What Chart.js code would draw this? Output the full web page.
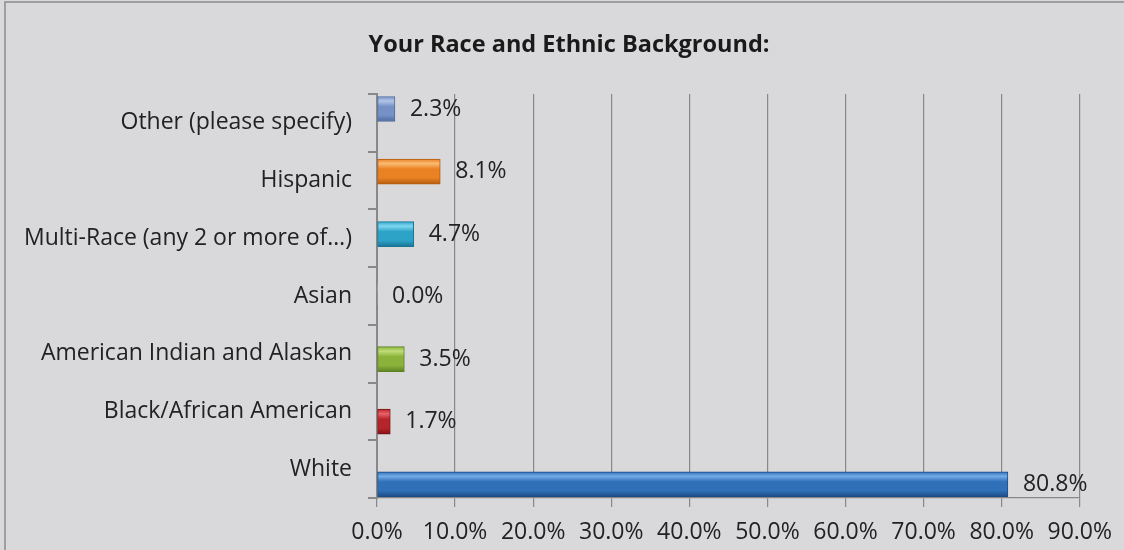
<!DOCTYPE html>
<html>
<head>
<meta charset="utf-8">
<title>Your Race and Ethnic Background</title>
<script src="https://cdn.jsdelivr.net/npm/chart.js@4.4.1/dist/chart.umd.min.js"></script>
<style>
    html, body { margin: 0; padding: 0; background: #d9d9db; }
    #wrap { width: 1124px; height: 550px; position: relative; }
</style>
</head>
<body>
<div id="wrap"><canvas id="chartRace"></canvas></div>
<script>
// dati
const chartTitle = 'Your Race and Ethnic Background:';
const categories = [
    'Other (please specify)',
    'Hispanic',
    'Multi-Race (any 2 or more of…)',
    'Asian',
    'American Indian and Alaskan',
    'Black/African American',
    'White'
];
const percentages = [2.3, 8.1, 4.7, 0.0, 3.5, 1.7, 80.8];
const xTickValues = [0, 10, 20, 30, 40, 50, 60, 70, 80, 90];

// colori barre: [chiaro, base, scuro]
const barColors = [
    ['#b3c6e8', '#7591c5', '#4f6a9c'],
    ['#f9bb72', '#ea8123', '#b45c10'],
    ['#80d8f0', '#2ea3c8', '#1a7595'],
    ['#cccccc', '#999999', '#666666'],
    ['#c0dd78', '#8bb33b', '#5f8124'],
    ['#e8646a', '#b7242a', '#7e1317'],
    ['#74ace8', '#2f70b8', '#1c4c85']
];

const FONT = "'Open Sans', 'DejaVu Sans', sans-serif";
const GRID = '#888888';
const TEXT = '#222222';
const BAR_H = 25;

function barFill(ctx) {
    const c = barColors[ctx.dataIndex] || barColors[0];
    const chart = ctx.chart;
    const yb = chart.scales && chart.scales.yb;
    if (!yb || ctx.type !== 'data') return c[1];
    const y = yb.getPixelForValue(ctx.dataIndex);
    if (!isFinite(y)) return c[1];
    const g = chart.ctx.createLinearGradient(0, y - BAR_H / 2, 0, y + BAR_H / 2);
    g.addColorStop(0, c[1]);
    g.addColorStop(0.18, c[0]);
    g.addColorStop(0.4, c[1]);
    g.addColorStop(0.75, c[1]);
    g.addColorStop(1, c[2]);
    return g;
}

// sfondo, cornice e titolo
const frame = {
    id: 'frame',
    beforeDraw(chart) {
        const ctx = chart.ctx;
        ctx.save();
        ctx.fillStyle = '#d9d9db';
        ctx.fillRect(0, 0, chart.width, chart.height);
        ctx.strokeStyle = '#8a8a8a';
        ctx.lineWidth = 1.5;
        ctx.strokeRect(5, 2, chart.width + 10, chart.height + 10);

        ctx.font = 'bold 23.5px ' + FONT;
        ctx.fillStyle = '#1a1a1a';
        ctx.textAlign = 'center';
        ctx.textBaseline = 'middle';
        ctx.fillText(chartTitle, 569, 45);
        ctx.restore();
    }
};

// etichette valori
const valueLabels = {
    id: 'valueLabels',
    afterDatasetsDraw(chart) {
        const ctx = chart.ctx;
        const meta = chart.getDatasetMeta(0);
        ctx.save();
        ctx.font = '23px ' + FONT;
        ctx.fillStyle = TEXT;
        ctx.textAlign = 'left';
        ctx.textBaseline = 'middle';
        meta.data.forEach((bar, i) => {
            ctx.fillText(percentages[i].toFixed(1) + '%', bar.x + 15, bar.y);
        });
        ctx.restore();
    }
};

new Chart(document.getElementById('chartRace'), {
    type: 'bar',
    data: {
        labels: categories,
        datasets: [{
            data: percentages.map((v, i) => ({ x: v, y: i })),
            xAxisID: 'x',
            yAxisID: 'yb',
            backgroundColor: barFill,
            borderColor: ctx => (barColors[ctx.dataIndex] || barColors[0])[2],
            borderWidth: ctx => (percentages[ctx.dataIndex] === 0 ? 0 : 1),
            borderSkipped: false,
            barThickness: BAR_H
        }]
    },
    options: {
        indexAxis: 'y',
        responsive: true,
        maintainAspectRatio: false,
        animation: false,
        layout: {
            padding: { left: 8, right: 42, top: 94, bottom: 0 }
        },
        plugins: {
            legend: { display: false },
            tooltip: { enabled: false },
            title: { display: false }
        },
        scales: {
            x: {
                type: 'linear',
                position: 'bottom',
                min: 0,
                max: 90,
                afterBuildTicks: scale => {
                    scale.ticks = xTickValues.map(v => ({ value: v }));
                },
                afterFit: scale => { scale.height = 52; },
                grid: {
                    color: GRID,
                    lineWidth: 1.2,
                    tickLength: 9
                },
                border: { display: true, color: GRID, width: 1.2 },
                ticks: {
                    color: TEXT,
                    padding: 12,
                    maxRotation: 0,
                    font: { family: FONT, size: 23 },
                    callback: v => Number(v).toFixed(1) + '%'
                }
            },
            y: {
                type: 'category',
                axis: 'y',
                position: 'left',
                offset: true,
                afterFit: scale => { scale.width = 369; },
                grid: {
                    offset: true,
                    drawOnChartArea: false,
                    color: GRID,
                    lineWidth: 2,
                    tickLength: 9
                },
                border: { display: true, color: GRID, width: 2 },
                ticks: {
                    color: TEXT,
                    padding: 16,
                    font: { family: FONT, size: 23 }
                }
            },
            // asse nascosto per la posizione delle barre (effetto prospettiva di Excel)
            yb: {
                type: 'linear',
                axis: 'y',
                position: 'left',
                display: false,
                reverse: true,
                offset: false,
                min: -0.24,
                max: 6.22,
                grid: { offset: false }
            }
        }
    },
    plugins: [frame, valueLabels]
});
</script>
</body>
</html>
